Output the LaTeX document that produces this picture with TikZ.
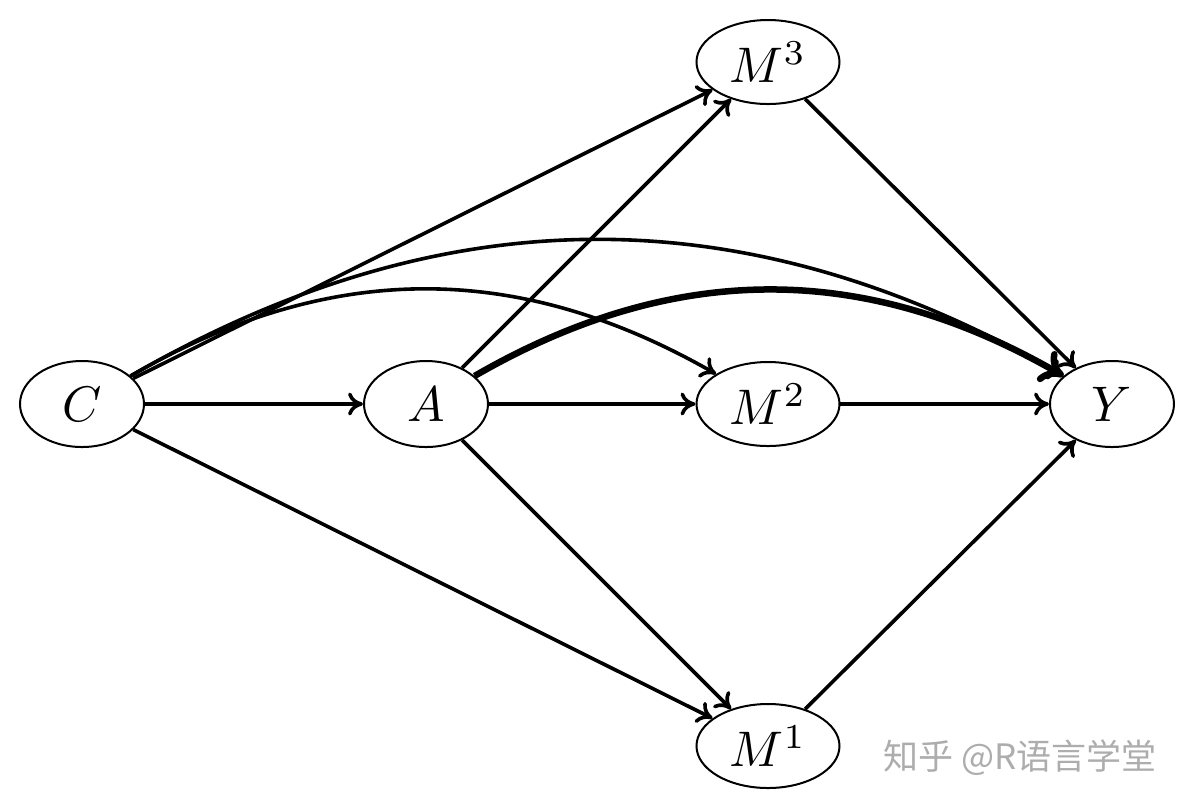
\documentclass[tikz,border=0pt]{standalone}
\usepackage{fontspec}
\usetikzlibrary{shapes.geometric,arrows.meta}
\newfontfamily\cjk{Noto Sans CJK SC}
\begin{document}
\begin{tikzpicture}[x=0.2pt,y=-0.2pt,
  var/.style={draw,ellipse,line width=0.4pt,minimum width=24.8pt,minimum height=17.2pt,inner sep=0pt},
  mvar/.style={var,minimum width=28.6pt,minimum height=16.8pt},
  edge/.style={-{Computer Modern Rightarrow[width=4.6pt,length=3pt]},line width=0.72pt},
  bigedge/.style={-{Computer Modern Rightarrow[width=7pt,length=4.4pt]},line width=1.3pt}]
\useasboundingbox (0,0) rectangle (1191,805);
\node[var] (C) at (82,404) {$C$};
\node[var] (A) at (426,404) {$A$};
\node[mvar] (M2) at (768,404) {$M^2$};
\node[mvar] (M3) at (768,62) {$M^3$};
\node[mvar] (M1) at (768,746) {$M^1$};
\node[var] (Y) at (1112,404) {$Y$};
\draw[edge] (C) -- (A);
\draw[edge] (C) -- (M3);
\draw[edge] (C) -- (M1);
\draw[edge] (C) to[bend left=30] (M2);
\draw[edge] (C) to[bend left=30] (Y);
\draw[edge] (A) -- (M3);
\draw[edge] (A) -- (M2);
\draw[edge] (A) -- (M1);
\draw[bigedge] (A) to[bend left=30] (Y);
\draw[edge] (M3) -- (Y);
\draw[edge] (M2) -- (Y);
\draw[edge] (M1) -- (Y);
\node[text=black!32,font=\cjk\fontsize{7pt}{8pt}\selectfont,anchor=west] (wm) at (866,758) {知乎 @R语言学堂};
\end{tikzpicture}
\end{document}
